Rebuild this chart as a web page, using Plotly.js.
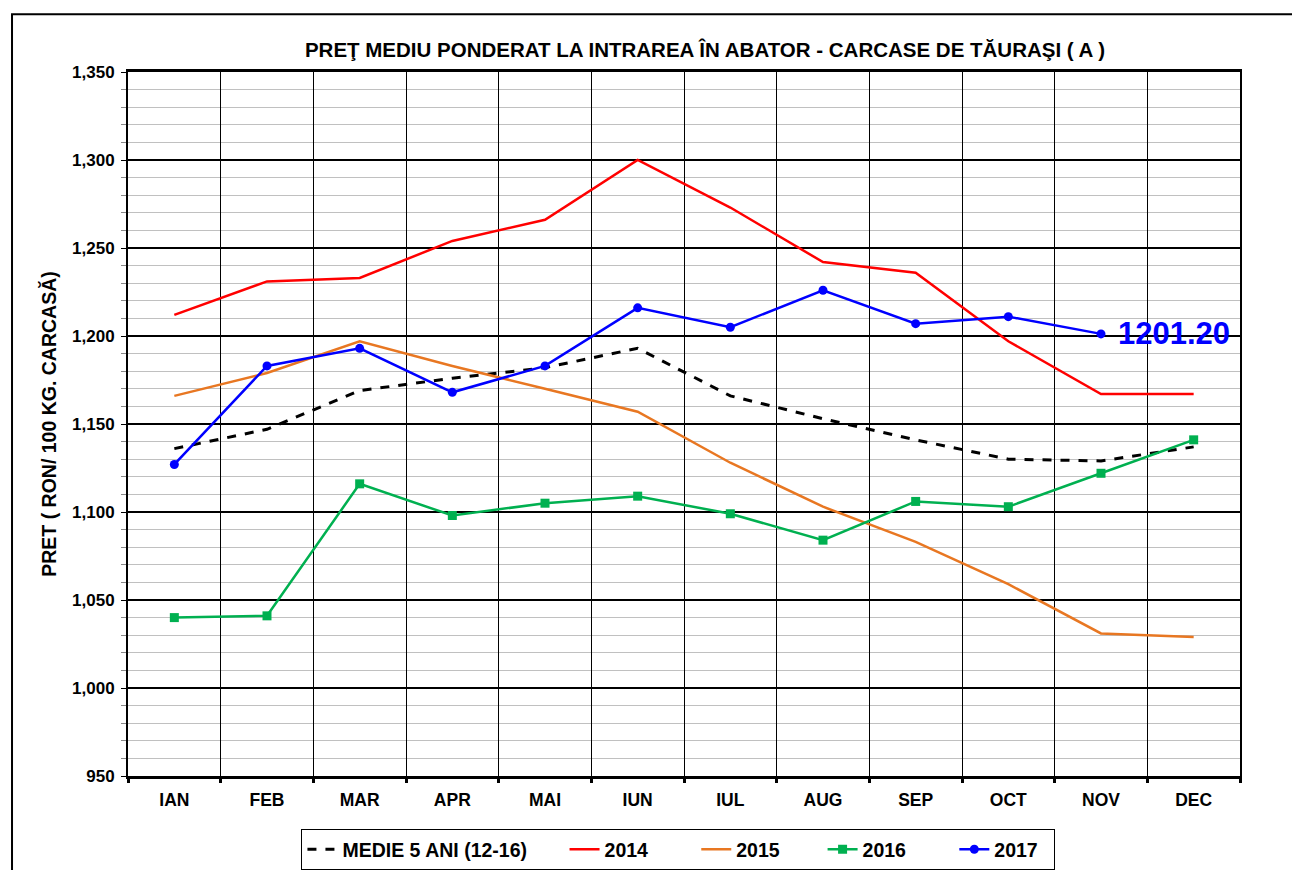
<!DOCTYPE html>
<html>
<head>
<meta charset="utf-8">
<script src="https://cdn.plot.ly/plotly-3.0.1.min.js"></script>
<style>body{margin:0;background:#fff}#chart{width:1292px;height:870px}</style>
</head>
<body>
<div id="chart"></div>
<script>
const months = ['IAN','FEB','MAR','APR','MAI','IUN','IUL','AUG','SEP','OCT','NOV','DEC'];
const seriesNames = ['MEDIE 5 ANI (12-16)', '2014', '2015', '2016', '2017'];
const medie5 = [1136,1147,1169,1176,1182,1193,1166,1153,1141,1130,1129,1137];
const y2014 = [1212,1231,1233,1254,1266,1300,1273,1242,1236,1197,1167,1167];
const y2015 = [1166,1179,1197,1183,1170,1157,1128,1103,1083,1059,1031,1029];
const y2016 = [1040,1041,1116,1098,1105,1109,1099,1084,1106,1103,1122,1141];
const y2017 = [1127,1183,1193,1168,1183,1216,1205,1226,1207,1211,1201.2];
const lastLabel = '1201.20';

const F = 'Arial, "Liberation Sans", sans-serif';
const nb = n => '\u00a0'.repeat(n);
const traces = [
  {x: months, y: medie5, name: seriesNames[0] + nb(6), mode: 'lines', line: {color: '#000', width: 3, dash: 'dash'}},
  {x: months, y: y2014, name: seriesNames[1] + nb(8), mode: 'lines', line: {color: '#ff0000', width: 2.5}},
  {x: months, y: y2015, name: seriesNames[2] + nb(7), mode: 'lines', line: {color: '#e87722', width: 2.5}},
  {x: months, y: y2016, name: seriesNames[3] + nb(8), mode: 'lines+markers', line: {color: '#00b050', width: 2.5}, marker: {symbol: 'square', size: 9, color: '#00b050'}},
  {x: months.slice(0, y2017.length), y: y2017, name: seriesNames[4] + nb(2), mode: 'lines+markers', line: {color: '#0000ff', width: 2.5}, marker: {symbol: 'circle', size: 9, color: '#0000ff'}}
];

const layout = {
  width: 1292, height: 870,
  margin: {l: 128, r: 52, t: 72, b: 94, autoexpand: false},
  paper_bgcolor: '#fff', plot_bgcolor: '#fff',
  showlegend: true,
  title: {text: '<b>PREŢ MEDIU PONDERAT LA INTRAREA ÎN ABATOR - CARCASE DE TĂURAŞI ( A )</b>', font: {family: F, size: 20.5, color: '#000'}, x: 0.5457, xanchor: 'center', y: 0.943, yanchor: 'middle'},
  xaxis: {
    type: 'category', tickson: 'boundaries', range: [-0.5, 11.5],
    showgrid: true, gridcolor: '#000', gridwidth: 1,
    showline: true, linecolor: '#000', linewidth: 3, mirror: true,
    ticks: 'outside', ticklen: 4, tickwidth: 3, tickcolor: '#000',
    ticklabelstandoff: 6,
    tickfont: {family: F, size: 17.5, color: '#000', weight: 'bold'},
    zeroline: false, fixedrange: true, automargin: false
  },
  yaxis: {
    range: [950, 1350], dtick: 50, tick0: 950, tickformat: ',d',
    showgrid: true, gridcolor: '#000', gridwidth: 2,
    showline: true, linecolor: '#000', linewidth: 2, mirror: true,
    ticks: 'outside', ticklen: 5, tickwidth: 1, tickcolor: '#000',
    ticklabelstandoff: 3,
    minor: {dtick: 10, showgrid: true, gridcolor: '#c0c0c0', gridwidth: 1, ticks: 'outside', ticklen: 5, tickcolor: '#888'},
    tickfont: {family: F, size: 17, color: '#000', weight: 'bold'},
    title: {text: '<b>PRET ( RON/ 100 KG. CARCASĂ)</b>', font: {family: F, size: 19.5, color: '#000'}, standoff: 10},
    zeroline: false, fixedrange: true, automargin: false
  },
  legend: {
    orientation: 'h', x: 0.495, xanchor: 'center', yref: 'container', y: 0.047, yanchor: 'top',
    bordercolor: '#000', borderwidth: 1, bgcolor: '#fff',
    font: {family: F, size: 19.5, color: '#000', weight: 'bold'},
    tracegroupgap: 0, valign: 'middle'
  },
  annotations: [{
    x: 'NOV', y: y2017[y2017.length - 1], xref: 'x', yref: 'y', text: '<b>' + lastLabel + '</b>',
    showarrow: false, xanchor: 'left', yanchor: 'middle', xshift: 15,
    font: {family: F, size: 31, color: '#0000ff'}
  }],
  shapes: [{
    type: 'rect', xref: 'paper', yref: 'paper', x0: -0.1043, x1: 1.06, y0: -0.16, y1: 1.082,
    line: {color: '#000', width: 2}, fillcolor: 'rgba(0,0,0,0)', layer: 'above'
  }]
};

Plotly.newPlot('chart', traces, layout, {displayModeBar: false, staticPlot: true});
</script>
</body>
</html>
